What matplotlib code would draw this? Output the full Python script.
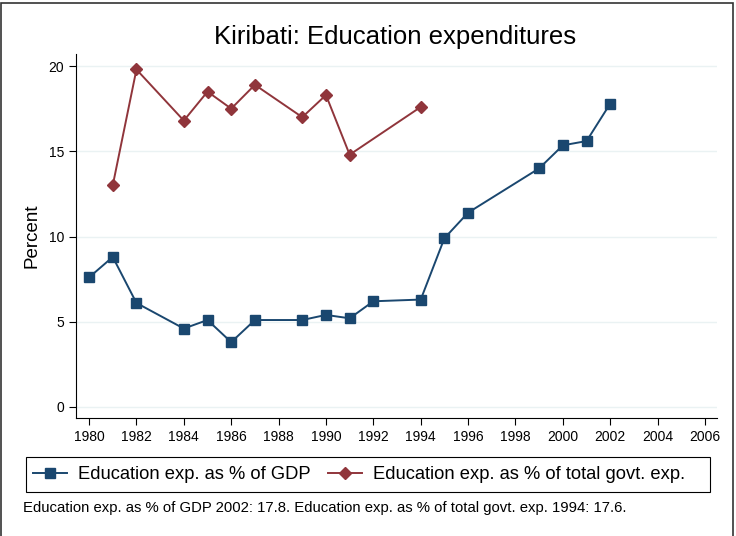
import matplotlib
matplotlib.use("Agg")
import matplotlib.pyplot as plt
from matplotlib.patches import Rectangle

plt.rcParams['font.family'] = ['Liberation Sans', 'DejaVu Sans']

# data
gdp_years = [1980, 1981, 1982, 1984, 1985, 1986, 1987, 1989, 1990, 1991, 1992,
             1994, 1995, 1996, 1999, 2000, 2001, 2002]
gdp_share = [7.6, 8.8, 6.1, 4.6, 5.1, 3.8, 5.1, 5.1, 5.4, 5.2, 6.2,
             6.3, 9.9, 11.4, 14.0, 15.35, 15.6, 17.8]

govt_years = [1981, 1982, 1984, 1985, 1986, 1987, 1989, 1990, 1991, 1994]
govt_share = [13.0, 19.8, 16.8, 18.5, 17.5, 18.9, 17.0, 18.3, 14.8, 17.6]

x_ticks = list(range(1980, 2007, 2))
y_ticks = [0, 5, 10, 15, 20]

blue = "#1a476f"
red = "#90353b"

W, H = 736, 536
fig = plt.figure(figsize=(W / 100, H / 100), dpi=100)
ax = fig.add_axes([0.1033, 0.2201, 0.8707, 0.6789])

l1, = ax.plot(gdp_years, gdp_share, color=blue, lw=1.4, marker='s', ms=6.5,
              label="Education exp. as % of GDP")
l2, = ax.plot(govt_years, govt_share, color=red, lw=1.4, marker='D', ms=6.5,
              label="Education exp. as % of total govt. exp.")

ax.set_xlim(1979.45, 2006.5)
ax.set_ylim(-0.65, 20.7)
ax.set_xticks(x_ticks)
ax.set_yticks(y_ticks)
ax.tick_params(labelsize=10, length=5, width=0.8, color='black')
ax.grid(axis='y', color='#eaf2f3', lw=1)
ax.set_axisbelow(True)
for side in ['top', 'right']:
    ax.spines[side].set_visible(False)
for side in ['left', 'bottom']:
    ax.spines[side].set_linewidth(0.8)

ax.set_ylabel("Percent", fontsize=13.5, labelpad=6)
fig.text(0.537, 0.931, "Kiribati: Education expenditures", fontsize=18.5,
         ha='center', va='center')

# legend content without its own frame; the Stata-like box is drawn below
leg = fig.legend(handles=[l1, l2], loc='center left',
                 bbox_to_anchor=(33 / W, 1 - 474.5 / H),
                 ncol=2, fontsize=13.25, frameon=False,
                 handlelength=1.85, handletextpad=0.6, columnspacing=0.92,
                 borderpad=0, borderaxespad=0)
fig.patches.append(Rectangle((25.7 / W, 1 - 492 / H), (710 - 25.7) / W, 35 / H,
                             transform=fig.transFigure, fill=False,
                             edgecolor='black', lw=0.8))

fig.text(23 / W, 1 - 508 / H,
         "Education exp. as % of GDP 2002: 17.8. Education exp. as % of total govt. exp. 1994: 17.6.",
         fontsize=10.7, ha='left', va='center')

# outer frame of the graph
fig.patches.append(Rectangle((1 / W, -0.01), 732 / W, 1.01 - 3 / H,
                             transform=fig.transFigure, fill=False,
                             edgecolor='#333333', lw=1.2))

fig.savefig("out.png", dpi=100)
